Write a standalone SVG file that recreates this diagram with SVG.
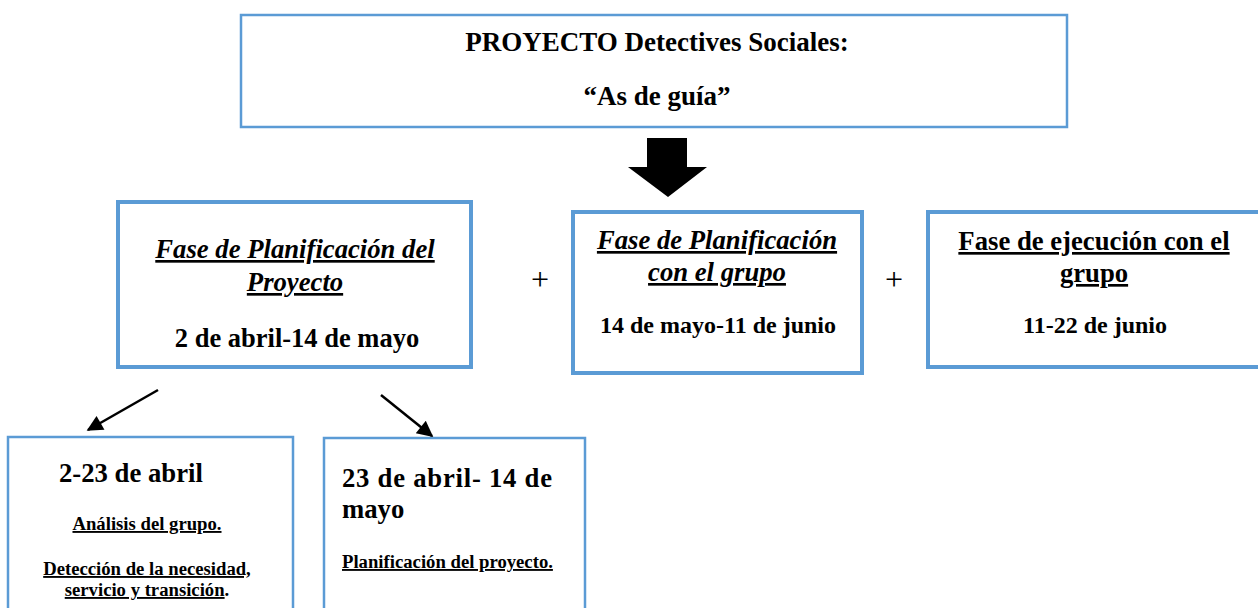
<svg xmlns="http://www.w3.org/2000/svg" width="1258" height="608" viewBox="0 0 1258 608">
<style>
.box{fill:#fff;stroke:#5B9BD5}
.t{font-family:"Liberation Serif","Times New Roman",serif;font-weight:bold;fill:#000;text-anchor:middle}
.s{text-anchor:start}
.i{font-style:italic}
.u{text-decoration:underline}
.c{stroke:#000;stroke-width:2.5;fill:none}
.p{font-family:"Liberation Serif","Times New Roman",serif;font-size:32px;fill:#000;text-anchor:middle}
</style>
<defs>
<marker id="ah" viewBox="0 0 10 10" refX="9" refY="5" markerWidth="21" markerHeight="16" markerUnits="userSpaceOnUse" orient="auto">
<path d="M0,0 L10,5 L0,10 Z" fill="#000"/>
</marker>
</defs>
<rect width="1258" height="608" fill="#fff"/>
<g id="titulo">
<rect class="box" x="241" y="15" width="826" height="112" stroke-width="2.5"/>
<text class="t" x="657" y="51" font-size="27">PROYECTO Detectives Sociales:</text>
<text class="t" x="657" y="105" font-size="27">“As de guía”</text>
</g>
<g id="fase1">
<rect class="box" x="118" y="202" width="353" height="165" stroke-width="4"/>
<text class="t i u" x="295" y="258" font-size="26.7">Fase de Planificación del</text>
<text class="t i u" x="295" y="291" font-size="26.7">Proyecto</text>
<text class="t" x="297" y="347" font-size="26.5">2 de abril-14 de mayo</text>
</g>
<g id="fase2">
<rect class="box" x="573" y="212" width="289" height="161" stroke-width="4"/>
<text class="t i u" x="717" y="249" font-size="26.7">Fase de Planificación</text>
<text class="t i u" x="717" y="281" font-size="26.7">con el grupo</text>
<text class="t" x="718" y="333" font-size="24">14 de mayo-11 de junio</text>
</g>
<g id="fase3">
<rect class="box" x="928" y="212" width="334" height="155" stroke-width="4"/>
<text class="t u" x="1094" y="250" font-size="26.7">Fase de ejecución con el</text>
<text class="t u" x="1094" y="282" font-size="26.7">grupo</text>
<text class="t" x="1095" y="333" font-size="24">11-22 de junio</text>
</g>
<g id="sub1">
<rect class="box" x="8" y="437" width="285" height="180" stroke-width="2.5"/>
<text class="t s" x="59" y="482" font-size="26.7">2-23 de abril</text>
<text class="t u" x="147" y="530" font-size="18.7">Análisis del grupo.</text>
<text class="t u" x="147" y="575" font-size="18.7">Detección de la necesidad,</text>
<text class="t" x="147" y="596" font-size="18.7"><tspan class="u">servicio y transición</tspan>.</text>
</g>
<g id="sub2">
<rect class="box" x="324" y="438" width="261" height="180" stroke-width="2.5"/>
<text class="t s" x="342" y="487" font-size="26.7" textLength="210" lengthAdjust="spacing">23 de abril- 14 de</text>
<text class="t s" x="342" y="518" font-size="26.7">mayo</text>
<text class="t s u" x="342" y="568" font-size="18.7">Planificación del proyecto.</text>
</g>
<g id="conectores">
<polygon points="647,138 687,138 687,167 707,167 668,197 628,167 647,167" fill="#000"/>
<line class="c" x1="158" y1="390" x2="88" y2="430" marker-end="url(#ah)"/>
<line class="c" x1="381" y1="395" x2="432" y2="436" marker-end="url(#ah)"/>
<text class="p" x="540" y="290">+</text>
<text class="p" x="894" y="290">+</text>
</g>
</svg>
